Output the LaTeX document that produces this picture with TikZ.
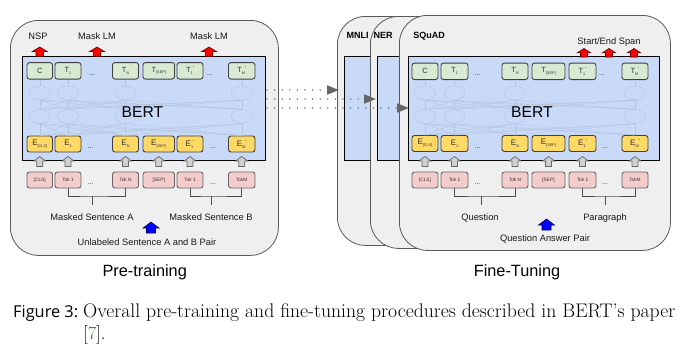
\documentclass[tikz,border=0pt]{standalone}
\usepackage{fontspec}
\newfontfamily\arial{Liberation Sans}
\newfontfamily\capsans{Open Sans}
\usetikzlibrary{arrows.meta,shapes.geometric,calc}
\definecolor{panelgray}{HTML}{EFEFEF}
\definecolor{panelline}{HTML}{595959}
\definecolor{bertblue}{HTML}{C9DAF8}
\definecolor{tgreen}{HTML}{D9EAD3}
\definecolor{eyellow}{HTML}{FFD966}
\definecolor{tokpink}{HTML}{F4CCCC}
\definecolor{netline}{HTML}{B4C3DE}
\definecolor{arrgray}{HTML}{D0D0D0}
\definecolor{citegreen}{HTML}{1A8A1A}
\definecolor{txtdark}{HTML}{333333}
\definecolor{dotgray}{HTML}{808080}
\newcommand\lsub[1]{\raisebox{-0.45ex}{\fontsize{3.8}{4}\selectfont #1}}
\newcommand\lsup{\raisebox{0.5ex}{\fontsize{6}{4}\selectfont '}}
\tikzset{
  pics/uparr/.style n args={4}{code={%
    \path[pic actions] (-#3/2,0) -- (-#3/2,-#2+#4) -- (-#1/2,-#2+#4) -- (0,-#2) -- (#1/2,-#2+#4) -- (#3/2,-#2+#4) -- (#3/2,0) -- cycle;}},
  panel/.style={draw=panelline, fill=panelgray, line width=0.8pt, rounded corners=28pt, inner sep=0pt, anchor=north west},
  bertbox/.style={draw=black, fill=bertblue, line width=1.2pt, inner sep=0pt, anchor=north west, minimum height=104pt},
  cell/.style={rounded corners=2.5pt, line width=0.9pt, inner sep=0pt, text=txtdark},
  tcell/.style={cell, draw=black!75, fill=tgreen, font=\arial\fontsize{7.5}{8}\selectfont, minimum height=16.5pt},
  ecell/.style={cell, draw=black!75, fill=eyellow, font=\arial\fontsize{8}{8}\selectfont, minimum height=16pt},
  kcell/.style={cell, draw=black!60, fill=tokpink, font=\arial\fontsize{4.8}{5}\selectfont, minimum height=16pt},
  lbl/.style={font=\arial\fontsize{9.3}{10}\selectfont, text=black!90, inner sep=0pt, anchor=base},
  tasklbl/.style={font=\arial\bfseries\fontsize{9}{10}\selectfont, inner sep=0pt, anchor=base},
  bigt/.style={font=\arial\fontsize{16.3}{18}\selectfont, inner sep=0pt, anchor=base},
  bertlbl/.style={font=\arial\fontsize{15.7}{17}\selectfont, inner sep=0pt, anchor=base},
  netell/.style={ellipse, draw=netline, line width=0.45pt, minimum width=21pt, minimum height=14pt, inner sep=0pt},
  netln/.style={draw=netline, line width=0.35pt},
  dotsl/.style={font=\arial\fontsize{7}{7}\selectfont, inner sep=0pt, anchor=base, text=txtdark},
  faintdots/.style={font=\arial\fontsize{7}{7}\selectfont, inner sep=0pt, anchor=base, text=netline},
  brk/.style={draw=black!70, line width=0.8pt},
  grayup/.style={fill=arrgray, draw=black!60, line width=0.7pt},
  redup/.style={fill=red, draw=red!35!black, line width=0.6pt},
  blueup/.style={fill=blue, draw=blue!35!black, line width=0.6pt},
  flow/.style={draw=dotgray, line width=1.8pt, line cap=round, dash pattern=on 0pt off 7.6pt,
    -{Triangle[length=12pt,width=9pt,fill=black!60,color=black!60]}},
}
\begin{document}
\begin{tikzpicture}[x=1pt,y=-1pt]
\useasboundingbox (0,0) rectangle (682,349);
\coordinate (rowA) at (0,93);
\coordinate (rowB) at (0,116.5);

%%%%%%%%%%%%%%%% PRE-TRAINING %%%%%%%%%%%%%%%%
\node[panel, minimum width=268pt, minimum height=235pt] (lpanel) at (10,20) {};
\node[bertbox, minimum width=243pt] (lblue) at (22,56) {};

\foreach \i/\cx/\w/\txtT/\txtE/\txtK in {
  1/39.75/25.5/{C}/{E\lsub{[CLS]}}/{[CLS]},
  2/68/26/{T\lsub{1}}/{E\lsub{1}}/{Tok 1},
  3/125.5/26/{T\lsub{N}}/{E\lsub{N}}/{Tok N},
  4/158.75/31.5/{T\lsub{[SEP]}}/{E\lsub{[SEP]}}/{[SEP]},
  5/190/26/{T\lsub{1}\lsup}/{E\lsub{1}\lsup}/{Tok 1},
  6/241.75/26.5/{T\lsub{M}\lsup}/{E\lsub{M}\lsup}/{TokM}}
{
  \node[tcell, minimum width=\w pt] (lt\i) at (\cx,70.8) {\txtT};
  \node[ecell, minimum width=\w pt] (le\i) at (\cx,144) {\txtE};
  \node[kcell, minimum width=\w pt] (lk\i) at (\cx,180) {\txtK};
}
% network
\foreach \i in {1,2,3,6} {
  \node[netell] (la\i) at (lt\i |- rowA) {};
  \node[netell] (lb\i) at (lt\i |- rowB) {};
}
\foreach \i in {1,2,3,6} {
  \draw[netln] (lt\i.south) -- (la\i.north);
  \foreach \j in {1,2,3,6} {
    \draw[netln] (la\i.south) -- (lb\j.north);
    \draw[netln] (lb\i.south) -- (le\j.north);
  }
}
\node[faintdots] (lfd1) at (180,99) {...};
\node[faintdots] (lfd2) at (180,123) {...};
\node[bertlbl] (lbert) at (142.5,117.3) {BERT};
% dots in rows
\node[dotsl] (ldt1) at (92,75.5) {...};
\node[dotsl] (ldt2) at (210,75.5) {...};
\node[dotsl] (lde1) at (90.5,148) {...};
\node[dotsl] (lde2) at (213,148) {...};
\node[dotsl] (ldk1) at (90.5,184) {...};
\node[dotsl] (ldk2) at (213,184) {...};
% gray arrows
\foreach \i in {1,...,6} {
  \pic[grayup] at ($(lk\i.north)+(0,-5)$) {uparr={12}{10}{6}{4.5}};
}
% red arrows + labels
\pic[redup] at (39.75,56.5) {uparr={15}{9.5}{7.5}{4.5}};
\pic[redup] at (97,56.5) {uparr={15}{9.5}{7.5}{4.5}};
\pic[redup] at (209,56.5) {uparr={15}{9.5}{7.5}{4.5}};
\node[lbl] (lnsp) at (38,39) {NSP};
\node[lbl] (lmlm1) at (97,39.3) {Mask LM};
\node[lbl] (lmlm2) at (209,39.3) {Mask LM};
% brackets
\coordinate (lbA) at (92,196);
\coordinate (lbAe) at (92,205);
\draw[brk] (lk2.south) |- (lbA) -| (lk3.south);
\draw[brk] (lbA) -- (lbAe);
\coordinate (lbB) at (211,196);
\coordinate (lbBe) at (211,205);
\draw[brk] (lk5.south) |- (lbB) -| (lk6.south);
\draw[brk] (lbB) -- (lbBe);
\node[lbl] (lmsa) at (92,220) {Masked Sentence A};
\node[lbl] (lmsb) at (211,220.7) {Masked Sentence B};
\pic[blueup] at (151,233) {uparr={16}{11}{9}{6}};
\node[lbl] (lunl) at (147,245) {Unlabeled Sentence A and B Pair};
\node[bigt] (lttl) at (144.7,276) {Pre-training};

%%%%%%%%%%%%%%%% FINE-TUNING %%%%%%%%%%%%%%%%
\node[panel, minimum width=271pt, minimum height=229pt] (mnli) at (337,16) {};
\node[bertbox, minimum width=250pt] (mnliblue) at (344,56) {};
\node[panel, minimum width=270pt, minimum height=232pt] (ner) at (370,16) {};
\node[bertbox, minimum width=250pt] (nerblue) at (377,56) {};
\node[panel, minimum width=271pt, minimum height=235pt] (squad) at (399,15) {};
\node[bertbox, minimum width=251pt] (rblue) at (408,56) {};
\node[tasklbl] (mnlil) at (357.5,38.3) {MNLI};
\node[tasklbl] (nerl) at (383,38.3) {NER};
\node[tasklbl] (squadl) at (429,38.3) {SQuAD};

\foreach \i/\cx/\w/\txtT/\txtE/\txtK in {
  1/425/26/{C}/{E\lsub{[CLS]}}/{[CLS]},
  2/454.5/27/{T\lsub{1}}/{E\lsub{1}}/{Tok 1},
  3/515/26/{T\lsub{N}}/{E\lsub{N}}/{Tok N},
  4/548.5/33/{T\lsub{[SEP]}}/{E\lsub{[SEP]}}/{[SEP]},
  5/582.5/27/{T\lsub{1}\lsup}/{E\lsub{1}\lsup}/{Tok 1},
  6/635/26/{T\lsub{M}\lsup}/{E\lsub{M}\lsup}/{TokM}}
{
  \node[tcell, minimum width=\w pt] (rt\i) at (\cx,71.3) {\txtT};
  \node[ecell, minimum width=\w pt] (re\i) at (\cx,143.5) {\txtE};
  \node[kcell, minimum width=\w pt] (rk\i) at (\cx,180) {\txtK};
}
\foreach \i in {1,2,3,6} {
  \node[netell] (ra\i) at (rt\i |- rowA) {};
  \node[netell] (rb\i) at (rt\i |- rowB) {};
}
\foreach \i in {1,2,3,6} {
  \draw[netln] (rt\i.south) -- (ra\i.north);
  \foreach \j in {1,2,3,6} {
    \draw[netln] (ra\i.south) -- (rb\j.north);
    \draw[netln] (rb\i.south) -- (re\j.north);
  }
}
\node[faintdots] (rfd1) at (567,99) {...};
\node[faintdots] (rfd2) at (567,123) {...};
\node[bertlbl] (rbert) at (532,117.3) {BERT};
\node[dotsl] (rdt1) at (477.5,75.5) {...};
\node[dotsl] (rdt2) at (602,75.5) {...};
\node[dotsl] (rde1) at (477.5,148) {...};
\node[dotsl] (rde2) at (605,148) {...};
\node[dotsl] (rdk1) at (477.5,184) {...};
\node[dotsl] (rdk2) at (605,184) {...};
\foreach \i in {1,...,6} {
  \pic[grayup] at ($(rk\i.north)+(0,-5)$) {uparr={12}{10}{6}{4.5}};
}
\pic[redup] at (584,57) {uparr={13}{8.5}{7}{4.2}};
\pic[redup] at (609,57) {uparr={13}{8.5}{7}{4.2}};
\pic[redup] at (634,57) {uparr={13}{8.5}{7}{4.2}};
\node[lbl] (rspan) at (609,44) {Start/End Span};
\coordinate (rbA) at (481,196);
\coordinate (rbAe) at (481,205);
\draw[brk] (rk2.south) |- (rbA) -| (rk3.south);
\draw[brk] (rbA) -- (rbAe);
\coordinate (rbB) at (605,196);
\coordinate (rbBe) at (605,205);
\draw[brk] (rk5.south) |- (rbB) -| (rk6.south);
\draw[brk] (rbB) -- (rbBe);
\node[lbl] (rq) at (480,220) {Question};
\node[lbl] (rp) at (605,220.7) {Paragraph};
\pic[blueup] at (546.5,230) {uparr={16}{11}{9}{6}};
\node[lbl] (rqap) at (545,241.7) {Question Answer Pair};
\node[bigt] (rttl) at (517,276) {Fine-Tuning};

%%%%%%%%%%%%%%%% transfer arrows %%%%%%%%%%%%%%%%
\coordinate (d1s) at (267,90);   \coordinate (d1e) at (339,90);
\coordinate (d2s) at (267,99);   \coordinate (d2e) at (376,99);
\coordinate (d3s) at (267,108);  \coordinate (d3e) at (409,108);
\draw[flow] (d1s) -- (d1e);
\draw[flow] (d2s) -- (d2e);
\draw[flow] (d3s) -- (d3e);

%%%%%%%%%%%%%%%% caption %%%%%%%%%%%%%%%%
\node[anchor=base west, inner sep=0pt] (capfig) at (13,317) {\resizebox{65pt}{!}{\capsans Figure 3:}};
\node[anchor=base west, inner sep=0pt] (capl1) at (83,317) {\resizebox{592pt}{!}{\rmfamily\fontsize{18}{20}\selectfont Overall pre-training and fine-tuning procedures described in BERT’s paper}};
\node[anchor=base west, inner sep=0pt] (capl2) at (83,339) {\rmfamily\fontsize{18.5}{20}\selectfont [\textcolor{citegreen}{7}].};
\end{tikzpicture}
\end{document}
